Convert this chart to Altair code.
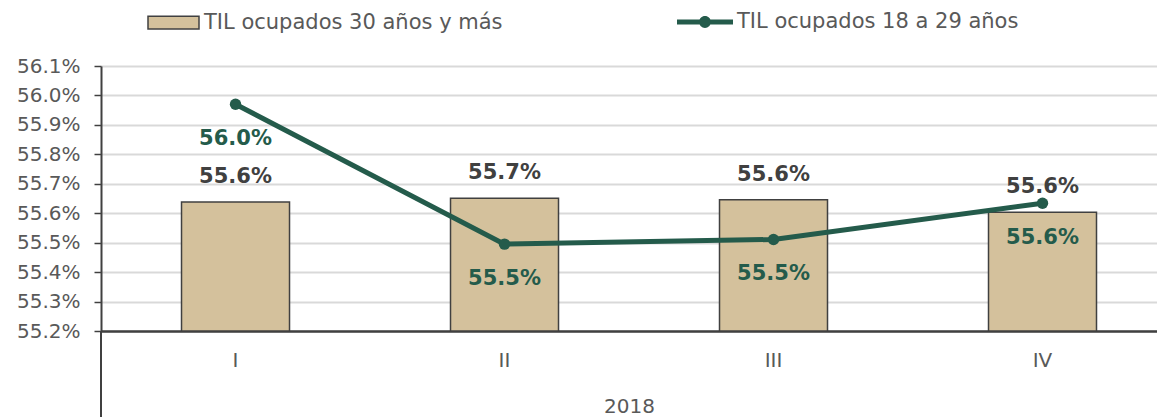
import altair as alt
import pandas as pd

quarters = ["I", "II", "III", "IV"]
bar_values = [55.638, 55.651, 55.646, 55.603]
line_values = [55.970, 55.495, 55.511, 55.634]
bar_name = "TIL ocupados 30 años y más"
line_name = "TIL ocupados 18 a 29 años"
y_ticks = [55.2, 55.3, 55.4, 55.5, 55.6, 55.7, 55.8, 55.9, 56.0, 56.1]
year_label = "2018"

df = pd.DataFrame({
    "q": quarters,
    "bar": bar_values,
    "line": line_values,
    "s1": [bar_name] * 4,
    "s2": [line_name] * 4,
})

FONT = "DejaVu Sans"
TAN = "#D4C19C"
GREEN = "#245B4B"
DARK = "#404040"
GRAY = "#595959"

x_scale = alt.Scale(paddingInner=0.5985, paddingOuter=0.2621, align=0.571)
x_axis = alt.Axis(title=year_label, labelAngle=0, tickSize=0, labelPadding=19,
                  labelFontSize=20, labelColor=GRAY, labelFont=FONT,
                  domainColor=DARK, domainWidth=2.5, titleFont=FONT,
                  titleFontSize=20, titleFontWeight="normal", titleColor=GRAY,
                  titlePadding=26)
y_scale = alt.Scale(domain=[55.2, 56.1], zero=False, nice=False)
y_axis = alt.Axis(values=y_ticks, tickCount=10, labelExpr="format(datum.value,'.1f')+'%'",
                  labelOverlap=False, labelFlush=False,
                  tickSize=7, tickColor=DARK, tickWidth=1.5, domainColor=DARK,
                  domainWidth=2, gridColor="#D9D9D9", gridWidth=2,
                  labelFontSize=20, labelColor=GRAY, labelFont=FONT,
                  labelPadding=14, title=None)


def X():
    return alt.X("q:N", sort=quarters, scale=x_scale, axis=x_axis)


def Y(field):
    return alt.Y(field, type="quantitative", scale=y_scale, axis=y_axis)


base = alt.Chart(df)

bars = base.mark_bar(stroke=DARK, strokeWidth=1.5).encode(
    x=X(),
    y=Y("bar"),
    y2=alt.datum(55.2),
    fill=alt.Fill("s1:N", scale=alt.Scale(domain=[bar_name], range=[TAN]),
                  legend=alt.Legend(title=None, orient="none", legendX=46, legendY=-70,
                                    symbolType="M-1,-0.25H1V0.25H-1Z", symbolSize=2601,
                                    symbolStrokeColor=DARK, symbolStrokeWidth=1.5,
                                    labelFontSize=21, labelFont=FONT, labelColor=GRAY,
                                    labelOffset=4, labelLimit=500)),
)

line = base.mark_line(color=GREEN, strokeWidth=5).encode(
    x=X(),
    y=Y("line"),
)

points = base.mark_point(filled=True, size=130, opacity=1).encode(
    x=X(),
    y=Y("line"),
    fill=alt.Fill("s2:N", scale=alt.Scale(domain=[line_name], range=[GREEN]),
                  legend=alt.Legend(title=None, orient="none", legendX=576, legendY=-72,
                                    symbolType="M-1,-0.09H1V0.09H-1Z M-0.21,0A0.21,0.21 0 1,1 0.21,0A0.21,0.21 0 1,1 -0.21,0Z",
                                    symbolSize=3136, symbolStrokeWidth=0,
                                    symbolOpacity=1,
                                    labelFontSize=21, labelFont=FONT, labelColor=GRAY,
                                    labelOffset=4, labelLimit=500)),
)

bar_text = base.transform_calculate(
    lab="format(datum.bar,'.1f')+'%'"
).mark_text(dy=-25, fontSize=21, fontWeight="bold", color=DARK, font=FONT,
            baseline="middle").encode(
    x=X(),
    y=Y("bar"),
    text="lab:N",
)

line_text = base.transform_calculate(
    lab="format(datum.line,'.1f')+'%'"
).mark_text(dy=35, fontSize=21, fontWeight="bold", color=GREEN, font=FONT,
            baseline="middle").encode(
    x=X(),
    y=Y("line"),
    text="lab:N",
)

axis_ext = base.mark_rule(color=DARK, strokeWidth=2).encode(
    x=alt.value(0), y=alt.value(265), y2=alt.value(352)
)

chart = alt.layer(bars, line, points, bar_text, line_text, axis_ext).resolve_scale(
    fill="independent"
).properties(
    width=1056, height=265,
    autosize=alt.AutoSizeParams(type="none"),
    padding={"left": 93, "top": 58, "right": 0, "bottom": 86},
).configure_view(stroke=None)

chart.save("out.html", embed_options={"renderer": "svg", "actions": False})
